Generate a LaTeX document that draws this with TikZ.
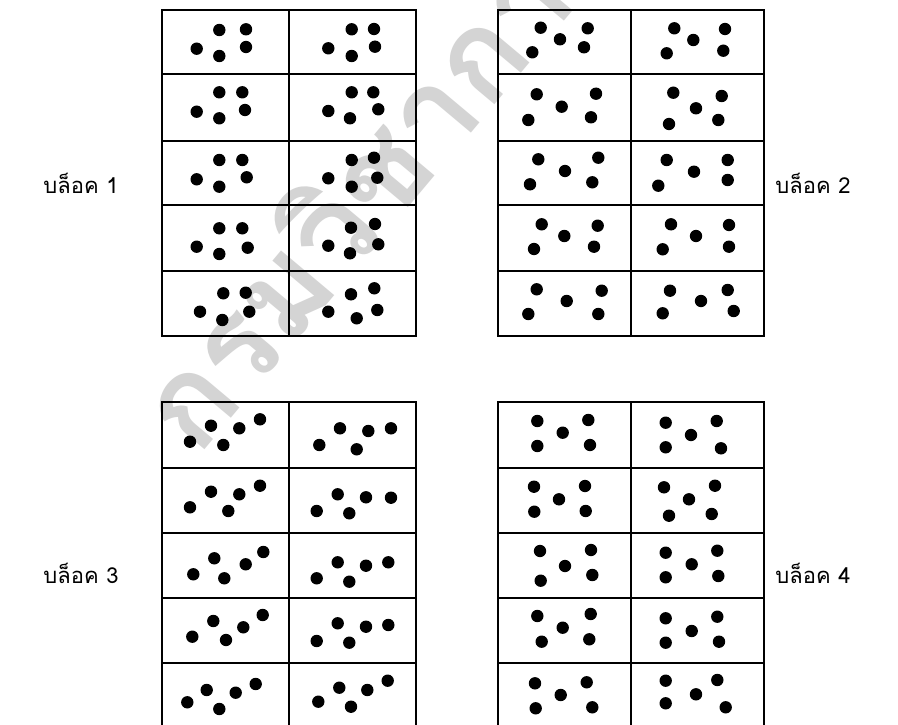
\documentclass[tikz,border=0pt]{standalone}
\usepackage{fontspec}
\newfontfamily\thaifont[Script=Thai]{Loma}
\tikzset{
  gridline/.style={line width=1.7pt, black},
  dotfill/.style={fill=black},
  blocklabel/.style={font=\thaifont\fontsize{22}{26}\selectfont, inner sep=0pt},
  wmark/.style={font=\thaifont\bfseries\fontsize{125}{130}\selectfont, text=black!17, inner sep=0pt}
}
\newcommand{\dotset}[1]{\foreach \p in {#1} \fill[dotfill] \p circle (6.2);}
\begin{document}
\begin{tikzpicture}[x=1pt,y=-1pt]
\useasboundingbox (0,0) rectangle (898,725);
\clip (0,0) rectangle (898,725);
\fill[white] (0,0) rectangle (898,725);
% watermark
\node[wmark, rotate=50] (wm) at (372,172) {กรมวิชาการ};
% labels
\node[blocklabel] (l1) at (81,183) {บล็อค 1};
\node[blocklabel] (l2) at (813,183) {บล็อค 2};
\node[blocklabel] (l3) at (81,573) {บล็อค 3};
\node[blocklabel] (l4) at (813,573) {บล็อค 4};
% block grids
\draw[gridline] (162,10) rectangle (416,336);
\draw[gridline] (289,10) -- (289,336);
\foreach \yy in {74,141,205,271} \draw[gridline] (162,\yy) -- (416,\yy);
\draw[gridline] (498,10) rectangle (764,336);
\draw[gridline] (631,10) -- (631,336);
\foreach \yy in {74,141,205,271} \draw[gridline] (498,\yy) -- (764,\yy);
\draw[gridline] (162,402) rectangle (416,728);
\draw[gridline] (289,402) -- (289,728);
\foreach \yy in {468,533,598,663} \draw[gridline] (162,\yy) -- (416,\yy);
\draw[gridline] (498,402) rectangle (764,728);
\draw[gridline] (631,402) -- (631,728);
\foreach \yy in {468,533,598,663} \draw[gridline] (498,\yy) -- (764,\yy);
% block 1 col 1
\dotset{(196.7,48.7),(219.3,30),(246,29.3),(246,47),(219.3,56)}
\dotset{(196.7,111.7),(219.3,92.3),(242.3,92.3),(245,110),(219.3,118.3)}
\dotset{(196.7,179.3),(219.3,160),(242.3,160),(246.7,177.3),(219.3,186.7)}
\dotset{(196.7,246.7),(219.3,228.3),(242.3,228.3),(247.7,247.7),(219.3,254)}
\dotset{(200,311.7),(223.3,293.3),(245.7,292.7),(249.3,311.7),(222.3,320)}
% block 1 col 2
\dotset{(328.3,48.3),(351.7,29.3),(374,29),(375,46.7),(351.7,56)}
\dotset{(328.3,111),(351.7,92.3),(373.3,92.3),(378.3,109.3),(350,118.3)}
\dotset{(328.3,178.3),(351.7,160),(374,157.7),(377.3,177.7),(351.7,186.7)}
\dotset{(328.3,245.7),(351,227.7),(375,224),(378.3,244.3),(350,253.3)}
\dotset{(328.3,311.7),(351,294.3),(374.3,288.3),(377.3,310),(356.7,318.3)}
% block 2 col 1
\dotset{(540.7,27.7),(560,39.3),(587.7,28.3),(584,47.3),(532.3,52.3)}
\dotset{(536.7,94.3),(561.7,106.7),(596,93.7),(591,117.3),(528.3,120)}
\dotset{(538.3,159.3),(565,171),(598.3,157.7),(592.3,182.3),(530,184.3)}
\dotset{(541.7,224.3),(564.3,236),(597.7,225.7),(594,246.7),(534,249)}
\dotset{(536.7,289.3),(566.7,301),(601.7,290.7),(598.3,314),(528.3,314)}
% block 2 col 2
\dotset{(674.3,28.3),(693.3,40),(725,29),(723.3,50.7),(666.7,53.3)}
\dotset{(673.3,92.7),(696,108.3),(721.7,96),(718.3,120),(669,124)}
\dotset{(666.7,160),(694,171.7),(727.7,160),(727.7,180),(658.3,185.7)}
\dotset{(671,224.3),(696,236),(729,225),(729,246.7),(662.7,249.3)}
\dotset{(670,290.7),(701,301),(727.7,290),(733.7,311),(662.7,313.3)}
% block 3 col 1
\dotset{(190,441.7),(211,425.7),(223.3,445),(239.3,428.3),(260,419.3)}
\dotset{(190,507.3),(211,491.7),(228.3,511),(239.3,494.3),(260,485.7)}
\dotset{(193.3,574.3),(214.3,558.3),(224.3,578.3),(245.7,564.3),(263.3,552)}
\dotset{(192.3,636.7),(213.3,621),(226,640),(243.3,627.3),(262.7,615)}
\dotset{(187.3,702.3),(206.7,690),(219.3,709),(235.7,692.7),(255.7,684)}
% block 3 col 2
\dotset{(319.3,445),(340,428.3),(356.7,449.3),(368.3,431),(391,428.3)}
\dotset{(316.7,511),(337.7,494.3),(349.3,513.3),(366,497.3),(391,497.7)}
\dotset{(316.7,578.3),(337.7,562.3),(349.3,581.7),(366,565.7),(388.3,562.3)}
\dotset{(316.7,641),(337.7,623.3),(349.3,642.7),(366,626.7),(388.3,625)}
\dotset{(318.3,701.7),(339.3,687.7),(351,706.7),(367.3,690),(387.7,680.7)}
% block 4 col 1
\dotset{(537.3,421),(537.3,446),(562.7,432.7),(588.3,420),(590,445)}
\dotset{(534,486.7),(534.3,511.7),(559,499.3),(585,486),(585.7,511)}
\dotset{(540,551),(540.7,580.7),(565,566),(591,550),(592.3,575)}
\dotset{(537.3,616),(541.7,641.7),(562.7,627.7),(590.7,614),(589.3,639.3)}
\dotset{(535,683.3),(535.7,708.3),(560.7,695),(586.7,682.3),(592.3,707.3)}
% block 4 col 2
\dotset{(665.7,422.7),(665.7,447.3),(691,435),(716.7,421),(721,448.3)}
\dotset{(664,487.3),(669,515.7),(689,499.3),(715,485.7),(711.7,514)}
\dotset{(665.7,552.7),(665.7,577.3),(691.7,564.3),(717.3,550.7),(718.3,576)}
\dotset{(665.7,618.3),(665.7,642.7),(691.7,631),(717.3,616.7),(719,641.7)}
\dotset{(665.7,680.7),(665.7,703.3),(696,694.3),(717.3,680),(725.7,707.3)}
\end{tikzpicture}
\end{document}
